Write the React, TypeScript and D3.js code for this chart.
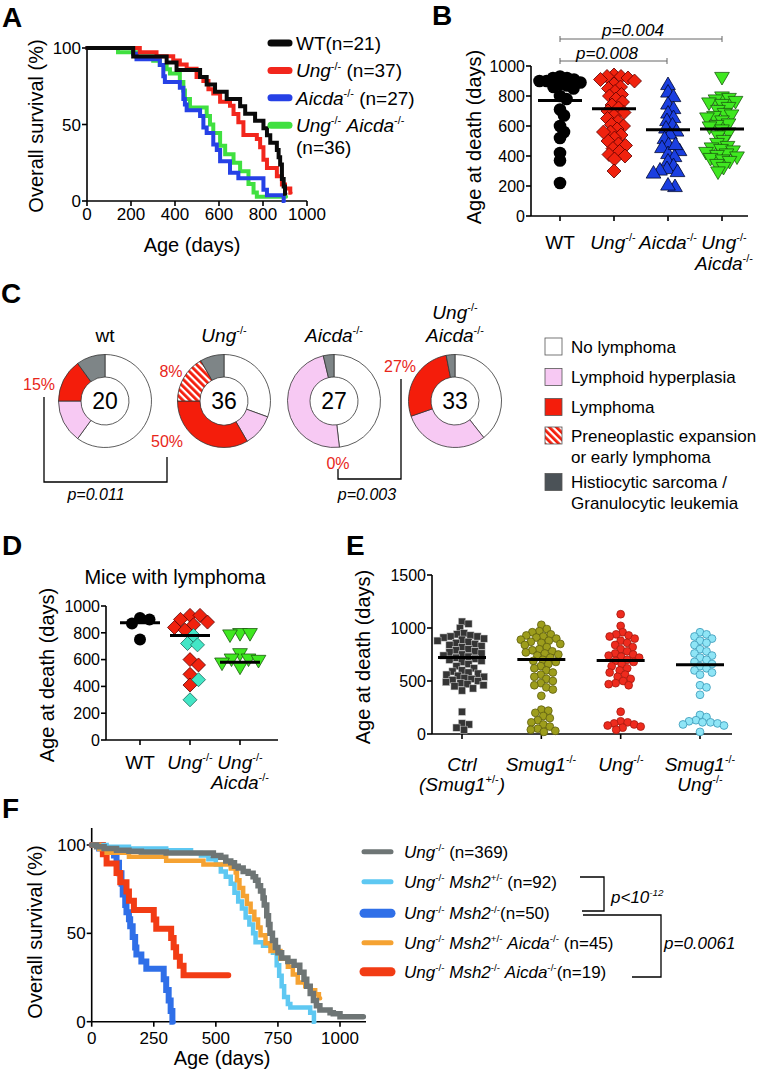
import React from 'react';
import * as d3 from 'd3';

const FONT = 'Arial, "Liberation Sans", Helvetica, sans-serif';

// ---------- Panel A data (Kaplan-Meier steps: [day, % survival]) ----------
const ageTicksA = [0, 200, 400, 600, 800, 1000];
const survTicks = [0, 50, 100];
const kmWT = [[0,100],[210,94.5],[362,90.5],[407,85.7],[514,81],[544,76.2],[582,71.4],[635,66.7],[696,61.9],[719,57.1],[764,52.4],[802,47.6],[818,42.9],[833,38.1],[863,33.3],[871,28.6],[878,23.8],[886,14.3],[894,9.5],[900,4.8],[902,4.8]];
const kmUng = [[0,100],[240,97.3],[316,94.6],[392,91.9],[422,89.2],[453,86.5],[498,81.1],[529,78.4],[552,73],[574,70.3],[605,64.9],[650,62.2],[666,56.8],[688,51.4],[711,43.2],[772,40.5],[787,35.1],[802,27],[818,21.6],[863,16.2],[886,10.8],[900,8.1],[924,5.4],[926,5.4]];
const kmAicda = [[0,100],[210,96.3],[225,92.6],[331,88.9],[347,81.5],[354,77.8],[422,74.1],[438,66.7],[445,63],[453,59.3],[514,55.6],[529,48.1],[544,44.4],[574,37],[590,33.3],[605,25.9],[650,18.5],[688,14.8],[802,7.4],[818,3.7],[894,0],[896,0]];
const kmUngAicda = [[0,100],[141,97.2],[225,94.4],[301,91.7],[331,88.9],[362,86.1],[377,83.3],[422,77.8],[438,72.2],[445,66.7],[468,61.1],[544,55.6],[559,50],[574,44.4],[605,36.1],[628,30.6],[666,25],[696,19.4],[734,11.1],[757,5.6],[772,2.8],[905,2.8]];
const legendA = ['WT(n=21)', '*Ung*^{-/-} (n=37)', '*Aicda*^{-/-} (n=27)', '*Ung*^{-/-} *Aicda*^{-/-}'];
const colorsA = ['#0a0a0a', '#f2261c', '#2641e6', '#40e040'];

// ---------- Panel B data (age at death, days) ----------
const groupsB = ['WT', 'Ung', 'Aicda', 'UngAicda'];
const deathWT = [930, 920, 920, 910, 900, 900, 890, 880, 870, 860, 850, 800, 780, 710, 670, 600, 560, 520, 420, 370, 220];
const deathUng = [940, 930, 930, 920, 910, 900, 880, 860, 850, 830, 810, 800, 780, 760, 740, 720, 700, 690, 670, 650, 630, 610, 600, 580, 560, 540, 520, 500, 480, 470, 450, 430, 410, 400, 380, 560, 300];
const deathAicda = [880, 830, 800, 750, 720, 690, 660, 640, 610, 590, 570, 550, 520, 480, 460, 440, 420, 400, 370, 340, 320, 310, 300, 290, 480, 200, 210];
const deathUngAicda = [920, 790, 780, 770, 760, 750, 740, 720, 700, 680, 670, 660, 650, 630, 610, 600, 590, 570, 550, 530, 500, 480, 460, 450, 440, 430, 420, 410, 400, 390, 380, 370, 360, 340, 320, 290];
const meansB = [770, 715, 575, 580];
const deathTicksB = [0, 200, 400, 600, 800, 1000];

// ---------- Panel C data (counts per outcome) ----------
const outcomes = ['No lymphoma', 'Lymphoid hyperplasia', 'Lymphoma', 'Preneoplastic expansion', 'Histiocytic sarcoma'];
const countsWT = [12, 3, 3, 0, 2];
const countsUng = [11, 4, 12, 6, 3];
const countsAicda = [13, 13, 0, 0, 1];
const countsUngAicda = [13, 10, 9, 0, 1];
const totalsC = ['20', '36', '27', '33'];

// ---------- Panel D data ----------
const lymWT = [910, 900, 870, 750];
const lymUngRed = [930, 930, 900, 880, 860, 840, 820, 600, 560, 490, 410];
const lymUngAqua = [780, 720, 710, 450, 300];
const lymUngAicda = [790, 790, 780, 640, 600, 600, 590, 570, 540];
const meansD = [875, 780, 580];

// ---------- Panel E data ----------
const groupsE = ['Ctrl', 'Smug1', 'Ung', 'SmugUng'];
const deathCtrl = [1060, 1040, 1000, 950, 940, 930, 920, 920, 910, 900, 890, 880, 870, 860, 850, 840, 830, 820, 800, 790, 780, 770, 760, 750, 740, 730, 720, 710, 700, 690, 680, 660, 640, 620, 600, 590, 580, 570, 560, 550, 540, 530, 520, 510, 500, 490, 480, 470, 460, 450, 430, 410, 210, 100, 90, 60, 40];
const deathSmug1 = [1030, 990, 970, 960, 940, 930, 920, 910, 900, 890, 880, 870, 860, 850, 840, 820, 800, 790, 780, 770, 760, 750, 740, 720, 700, 690, 680, 660, 640, 620, 600, 580, 560, 540, 520, 500, 480, 460, 440, 420, 360, 230, 220, 200, 170, 150, 130, 110, 90, 70, 50, 40, 30, 20];
const deathUngE = [1130, 1020, 960, 940, 930, 920, 900, 880, 860, 840, 820, 800, 780, 760, 750, 740, 730, 720, 700, 690, 680, 660, 640, 620, 600, 580, 560, 540, 520, 500, 480, 470, 460, 210, 120, 110, 100, 90, 80, 70, 60, 40];
const deathSmugUng = [960, 940, 920, 900, 880, 860, 840, 800, 780, 760, 740, 720, 700, 680, 660, 640, 620, 600, 580, 560, 460, 440, 370, 180, 160, 130, 120, 110, 110, 100, 90, 80, 20];
const meansE = [722, 703, 694, 653];
const deathTicksE = [0, 500, 1000, 1500];

// ---------- Panel F data ----------
const ageTicksF = [0, 250, 500, 750, 1000];
const kmF_Ung = [[0,100],[20,99],[50,98],[100,97],[150,96.5],[200,96],[300,95.5],[490,94],[520,93],[540,91],[560,90],[575,88],[590,87],[610,85],[630,84],[650,82],[660,80],[670,77],[680,74],[690,70],[695,66],[705,60],[712,55],[718,50],[728,46],[740,42],[750,39],[765,36],[790,34],[815,32],[838,28],[855,24],[866,20],[880,16],[893,12],[905,9],[919,6.6],[960,5],[973,4.5],[1000,2.8],[1094,2.8]];
const kmF_Msh2het = [[0,100],[60,99],[150,98],[300,97],[400,95.5],[440,94],[470,92],[500,89],[520,85],[540,82],[560,78],[575,73],[590,68],[605,64],[620,59],[635,55],[650,50],[660,45],[690,43],[730,39],[745,32],[755,26],[765,20],[775,14],[790,10],[800,8],[880,5],[895,0],[897,0]];
const kmF_Msh2ko = [[0,100],[30,98],[60,96],[90,94],[100,90],[110,84],[120,78],[125,72],[135,66],[140,62],[150,58],[155,54],[165,48],[175,42],[180,38],[200,34],[220,30],[285,30],[290,24],[300,18],[310,12],[318,6],[325,0],[327,0]];
const kmF_Msh2hetAicda = [[0,100],[30,97.8],[60,95.6],[150,93.3],[300,91.1],[450,88.9],[560,86.7],[580,84.4],[585,80],[595,75.6],[610,71.1],[625,66.7],[640,62.2],[655,57.8],[670,53.3],[680,48.9],[700,44.4],[720,40],[760,35.6],[790,31.1],[810,26.7],[830,22.2],[860,20],[880,17.8],[900,15.6],[915,13.3],[920,13.3]];
const kmF_Msh2koAicda = [[0,100],[45,94.7],[60,89.5],[100,84.2],[115,78.9],[140,73.7],[150,68.4],[170,63.2],[250,57.9],[260,52.6],[320,47.4],[330,42.1],[340,36.8],[355,31.6],[370,26.3],[550,26.3]];
const legendF = [
  '*Ung*^{-/-} (n=369)',
  '*Ung*^{-/-} *Msh2*^{+/-} (n=92)',
  '*Ung*^{-/-} *Msh2*^{-/-}(n=50)',
  '*Ung*^{-/-} *Msh2*^{+/-} *Aicda*^{-/-} (n=45)',
  '*Ung*^{-/-} *Msh2*^{-/-} *Aicda*^{-/-}(n=19)',
];
const colorsF = ['#6e7575', '#5ec8f2', '#2f6fe8', '#f5a232', '#f23c14'];

// ---------- helpers ----------
type Seg = { t: string; italic: boolean; sup: boolean };
function parseRich(text: string): Seg[] {
  const segs: Seg[] = [];
  let italic = false;
  let buf = '';
  let i = 0;
  const push = (t: string, sup: boolean) => { if (t) segs.push({ t, italic, sup }); };
  while (i < text.length) {
    const c = text[i];
    if (c === '*') { push(buf, false); buf = ''; italic = !italic; i++; }
    else if (c === '^' && text[i + 1] === '{') {
      push(buf, false); buf = '';
      const j = text.indexOf('}', i);
      push(text.slice(i + 2, j), true);
      i = j + 1;
    } else { buf += c; i++; }
  }
  push(buf, false);
  return segs;
}

function Rich({ x, y, text, size, anchor = 'start', fill = '#000', italic = false, transform }: any) {
  const segs = parseRich(text);
  let cur = 0;
  const shift = size * 0.4;
  return (
    <text x={x} y={y + size * 0.36} fontSize={size} textAnchor={anchor} fill={fill} fontFamily={FONT}
      fontStyle={italic ? 'italic' : 'normal'} transform={transform}>
      {segs.map((s, k) => {
        const target = s.sup ? -shift : 0;
        const dy = target - cur;
        cur = target;
        return (
          <tspan key={k} dy={dy} fontSize={s.sup ? size * 0.58 : size} fontStyle={s.italic || italic ? 'italic' : 'normal'}>
            {s.t}
          </tspan>
        );
      })}
    </text>
  );
}

function swarm(values: number[], y: (v: number) => number, minDist: number) {
  const order = values.map((v, i) => ({ v, i })).sort((a, b) => b.v - a.v);
  const placed: { x: number; y: number }[] = [];
  const out: { v: number; dx: number; y: number }[] = new Array(values.length);
  for (const { v, i } of order) {
    const yy = y(v);
    let off = 0;
    for (let k = 0; k < 400; k++) {
      const cand = k === 0 ? 0 : (k % 2 === 1 ? Math.ceil(k / 2) * 0.5 : -Math.ceil(k / 2) * 0.5);
      if (placed.every(p => (p.x - cand) ** 2 + (p.y - yy) ** 2 >= minDist * minDist)) { off = cand; break; }
    }
    placed.push({ x: off, y: yy });
    out[i] = { v, dx: off, y: yy };
  }
  return out;
}

const diamond = (h: number) => `M0,${-h}L${h},0L0,${h}L${-h},0Z`;
const triUp = (h: number) => `M0,${-h}L${h * 1.05},${h * 0.8}L${-h * 1.05},${h * 0.8}Z`;
const triDown = (h: number) => `M0,${h}L${h * 1.05},${-h * 0.8}L${-h * 1.05},${-h * 0.8}Z`;

function Letter({ x, y, t }: any) {
  return <text x={x} y={y} fontSize={28} fontWeight="bold" fontFamily={FONT}>{t}</text>;
}

function YAxis({ scale, x, ticks, top, size = 16, fmt = (d: number) => String(d) }: any) {
  const r = scale.range();
  return (
    <g>
      <line x1={x} x2={x} y1={r[0]} y2={top ?? r[1]} stroke="#000" strokeWidth={1.6} />
      {ticks.map((t: number) => (
        <g key={t}>
          <line x1={x - 5} x2={x} y1={scale(t)} y2={scale(t)} stroke="#000" strokeWidth={1.6} />
          <text x={x - 6} y={scale(t) + size * 0.36} fontSize={size} textAnchor="end" fontFamily={FONT}>{fmt(t)}</text>
        </g>
      ))}
    </g>
  );
}

function KM({ data, x, y, color, width = 4 }: any) {
  const line = d3.line<number[]>().x(d => x(d[0])).y(d => y(d[1])).curve(d3.curveStepAfter);
  return <path d={line(data) as string} fill="none" stroke={color} strokeWidth={width} strokeLinejoin="miter" strokeLinecap="round" />;
}

export default function App() {
  // ---------------- Panel A ----------------
  const xA = d3.scaleLinear().domain([0, 1000]).range([87, 307]);
  const yA = d3.scaleLinear().domain([0, 100]).range([201, 48]);
  const kmA = [kmWT, kmUng, kmAicda, kmUngAicda];

  // ---------------- Panel B ----------------
  const xB = d3.scalePoint<string>().domain(groupsB).range([560, 722]);
  const yB = d3.scaleLinear().domain([0, 1000]).range([216, 66]);
  const swB = [deathWT, deathUng, deathAicda, deathUngAicda].map(v => swarm(v, yB, 7));

  // ---------------- Panel C ----------------
  const pie = d3.pie<number>().sort(null).value(d => d);
  const arc = d3.arc<d3.PieArcDatum<number>>().innerRadius(24).outerRadius(46.5);
  const fillsC = ['#ffffff', '#f7c9f3', '#f41d0b', 'url(#hatch)', '#7e8587'];
  const donutCenters = [105, 224, 334, 455];
  const countsC = [countsWT, countsUng, countsAicda, countsUngAicda];

  // ---------------- Panel D ----------------
  const xD = d3.scalePoint<string>().domain(['WT', 'Ung', 'UngAicda']).range([140, 240]);
  const yD = d3.scaleLinear().domain([0, 1000]).range([740, 606]);
  const ungAll = [...lymUngRed, ...lymUngAqua];
  const swDWT = swarm(lymWT, yD, 9.5);
  const swDUng = swarm(ungAll, yD, 10);
  const swDUA = swarm(lymUngAicda, yD, 10);

  // ---------------- Panel E ----------------
  const xE = d3.scalePoint<string>().domain(groupsE).range([462, 700]);
  const yE = d3.scaleLinear().domain([0, 1500]).range([734, 575]);
  const swE = [deathCtrl, deathSmug1, deathUngE, deathSmugUng].map(v => swarm(v, yE, 6.6));
  const eFill = ['#353535', '#9d9d1c', '#ee2b1e', '#8fe5f6'];
  const eStroke = ['#cfcfcf', '#5e5e10', '#a51a10', '#3a98b8'];

  // ---------------- Panel F ----------------
  const xF = d3.scaleLinear().domain([0, 1000]).range([91.7, 340]);
  const yF = d3.scaleLinear().domain([0, 100]).range([1021.7, 845]);
  const kmF = [kmF_Ung, kmF_Msh2het, kmF_Msh2ko, kmF_Msh2hetAicda, kmF_Msh2koAicda];
  const widthF = [5.5, 4.5, 6, 4.5, 6];
  const drawOrderF = [2, 4, 1, 3, 0];
  const legendY = [851.7, 881.7, 913.3, 942.7, 971.7];
  const legendW = [5, 5, 9, 5, 9];

  return (
    <div style={{ position: 'absolute', left: 0, top: 0 }}>
      <svg width={759} height={1069} style={{ display: 'block', background: '#fff' }} fontFamily={FONT}>
        <defs>
          <pattern id="hatch" patternUnits="userSpaceOnUse" width={5} height={5} patternTransform="rotate(-45)">
            <rect width={5} height={5} fill="#fff" />
            <rect width={2.8} height={5} fill="#f41d0b" />
          </pattern>
        </defs>

        {/* ================= A ================= */}
        <Letter x={2} y={27} t="A" />
        <YAxis scale={yA} x={87} ticks={survTicks} size={17} />
        <line x1={87} x2={307} y1={201} y2={201} stroke="#000" strokeWidth={1.6} />
        {ageTicksA.map(t => (
          <g key={t}>
            <line x1={xA(t)} x2={xA(t)} y1={201} y2={206} stroke="#000" strokeWidth={1.6} />
            <text x={xA(t)} y={220} fontSize={17} textAnchor="middle" fontFamily={FONT}>{t}</text>
          </g>
        ))}
        {[3, 2, 1, 0].map(i => <KM key={i} data={kmA[i]} x={xA} y={yA} color={colorsA[i]} width={4} />)}
        <text x={192} y={252} fontSize={20} textAnchor="middle">Age (days)</text>
        <text transform="translate(43,126) rotate(-90)" fontSize={20} textAnchor="middle">Overall survival (%)</text>
        {legendA.map((t, i) => (
          <g key={i}>
            <line x1={271} x2={289} y1={43 + i * 27.4} y2={43 + i * 27.4} stroke={colorsA[i]} strokeWidth={7} strokeLinecap="round" />
            <Rich x={296} y={43 + i * 27.4} text={t} size={19} />
          </g>
        ))}
        <Rich x={296} y={147} text="(n=36)" size={19} />

        {/* ================= B ================= */}
        <Letter x={432} y={25} t="B" />
        <YAxis scale={yB} x={531} ticks={deathTicksB} size={16} />
        <line x1={531} x2={748} y1={216} y2={216} stroke="#000" strokeWidth={1.6} />
        {groupsB.map(g => <line key={g} x1={xB(g)} x2={xB(g)} y1={216} y2={221} stroke="#000" strokeWidth={1.6} />)}
        <text transform="translate(481,137) rotate(-90)" fontSize={20} textAnchor="middle">Age at death (days)</text>
        {swB[0].map((p, k) => <circle key={k} cx={(xB('WT') as number) + p.dx} cy={p.y} r={6.3} fill="#000" />)}
        {swB[1].map((p, k) => <path key={k} d={diamond(7)} transform={`translate(${(xB('Ung') as number) + p.dx},${p.y})`} fill="#f0220e" stroke="#5a0000" strokeWidth={0.8} />)}
        {swB[2].map((p, k) => <path key={k} d={triUp(7)} transform={`translate(${(xB('Aicda') as number) + p.dx},${p.y})`} fill="#1b3fe0" stroke="#000830" strokeWidth={0.8} />)}
        {swB[3].map((p, k) => <path key={k} d={triDown(7)} transform={`translate(${(xB('UngAicda') as number) + p.dx},${p.y})`} fill="#3fe820" stroke="#1c5a10" strokeWidth={0.8} />)}
        {groupsB.map((g, i) => (
          <line key={g} x1={(xB(g) as number) - 22} x2={(xB(g) as number) + 22} y1={yB(meansB[i])} y2={yB(meansB[i])} stroke="#000" strokeWidth={3} />
        ))}
        <Rich x={560} y={242} text="WT" size={19} anchor="middle" />
        <Rich x={613} y={242} text="*Ung*^{-/-}" size={19} anchor="middle" />
        <Rich x={668} y={242} text="*Aicda*^{-/-}" size={19} anchor="middle" />
        <Rich x={724} y={242} text="*Ung*^{-/-}" size={19} anchor="middle" />
        <Rich x={724} y={263} text="*Aicda*^{-/-}" size={19} anchor="middle" />
        {/* p-value brackets */}
        <g stroke="#666" strokeWidth={1}>
          <line x1={560} x2={722} y1={39} y2={39} />
          <line x1={560} x2={560} y1={36} y2={42} />
          <line x1={722} x2={722} y1={36} y2={42} />
          <line x1={560} x2={667} y1={61} y2={61} />
          <line x1={560} x2={560} y1={58} y2={64} />
          <line x1={667} x2={667} y1={58} y2={64} />
        </g>
        <Rich x={633} y={30} text="p=0.004" size={17} anchor="middle" italic />
        <Rich x={607} y={53} text="p=0.008" size={17} anchor="middle" italic />

        {/* ================= C ================= */}
        <Letter x={1} y={303} t="C" />
        {countsC.map((counts, i) => (
          <g key={i} transform={`translate(${donutCenters[i]},401)`}>
            {pie(counts).filter(a => a.value > 0).map((a, k) => (
              <path key={k} d={arc(a) as string} fill={fillsC[a.index]} stroke="#333" strokeWidth={0.8} />
            ))}
            <text x={0} y={8} fontSize={23} textAnchor="middle">{totalsC[i]}</text>
          </g>
        ))}
        <Rich x={105} y={335} text="wt" size={19} anchor="middle" />
        <Rich x={224} y={335} text="*Ung*^{-/-}" size={19} anchor="middle" />
        <Rich x={334} y={335} text="*Aicda*^{-/-}" size={19} anchor="middle" />
        <Rich x={455} y={312} text="*Ung*^{-/-}" size={19} anchor="middle" />
        <Rich x={455} y={335} text="*Aicda*^{-/-}" size={19} anchor="middle" />
        {[['15%', 39, 384], ['50%', 167, 441], ['8%', 171, 371], ['0%', 338, 463], ['27%', 400, 366]].map(([t, x, y]) => (
          <Rich key={t as string} x={x} y={y} text={t} size={16} anchor="middle" fill="#e8261a" />
        ))}
        <path d="M44,397V482H167V457" fill="none" stroke="#000" strokeWidth={1.3} />
        <path d="M338,469V479H401V379" fill="none" stroke="#000" strokeWidth={1.3} />
        <Rich x={96} y={494} text="p=0.011" size={16} anchor="middle" italic />
        <Rich x={367} y={494} text="p=0.003" size={16} anchor="middle" italic />
        {/* legend */}
        {[
          { y: 346.5, fill: '#fff', lines: ['No lymphoma'] },
          { y: 377, fill: '#f7c9f3', lines: ['Lymphoid hyperplasia'] },
          { y: 407, fill: '#f41d0b', lines: ['Lymphoma'] },
          { y: 435.5, fill: 'url(#hatch)', lines: ['Preneoplastic expansion', 'or early lymphoma'] },
          { y: 482, fill: '#4b5257', lines: ['Histiocytic sarcoma /', 'Granulocytic leukemia'] },
        ].map((e, i) => (
          <g key={i}>
            <rect x={545} y={e.y - 8.5} width={17} height={17} fill={e.fill} stroke="#555" strokeWidth={0.8} />
            {e.lines.map((l, j) => <Rich key={j} x={571} y={e.y + j * 21} text={l} size={17} />)}
          </g>
        ))}

        {/* ================= D ================= */}
        <Letter x={2} y={555} t="D" />
        <text x={175} y={584} fontSize={20} textAnchor="middle">Mice with lymphoma</text>
        <YAxis scale={yD} x={106} ticks={deathTicksB} size={16} />
        <line x1={106} x2={278} y1={740} y2={740} stroke="#000" strokeWidth={1.6} />
        {['WT', 'Ung', 'UngAicda'].map(g => <line key={g} x1={xD(g)} x2={xD(g)} y1={740} y2={745} stroke="#000" strokeWidth={1.6} />)}
        <text transform="translate(54,675) rotate(-90)" fontSize={20} textAnchor="middle">Age at death (days)</text>
        {swDWT.map((p, k) => <circle key={k} cx={(xD('WT') as number) + p.dx} cy={p.y} r={6} fill="#000" />)}
        {swDUng.map((p, k) => (
          <path key={k} d={diamond(7)} transform={`translate(${(xD('Ung') as number) + p.dx},${p.y})`}
            fill={k < lymUngRed.length ? '#f0220e' : '#43e6c6'} stroke={k < lymUngRed.length ? '#5a0000' : '#1a6a5a'} strokeWidth={0.8} />
        ))}
        {swDUA.map((p, k) => <path key={k} d={triDown(7)} transform={`translate(${(xD('UngAicda') as number) + p.dx},${p.y})`} fill="#3fe820" stroke="#1c5a10" strokeWidth={0.8} />)}
        {['WT', 'Ung', 'UngAicda'].map((g, i) => (
          <line key={g} x1={(xD(g) as number) - 20} x2={(xD(g) as number) + 20} y1={yD(meansD[i])} y2={yD(meansD[i])} stroke="#000" strokeWidth={3} />
        ))}
        <Rich x={140} y={762} text="WT" size={19} anchor="middle" />
        <Rich x={190} y={762} text="*Ung*^{-/-}" size={19} anchor="middle" />
        <Rich x={240} y={762} text="*Ung*^{-/-}" size={19} anchor="middle" />
        <Rich x={240} y={782} text="*Aicda*^{-/-}" size={19} anchor="middle" />

        {/* ================= E ================= */}
        <Letter x={346} y={555} t="E" />
        <YAxis scale={yE} x={432} ticks={deathTicksE} size={16} />
        <line x1={432} x2={732} y1={734} y2={734} stroke="#000" strokeWidth={1.6} />
        {groupsE.map(g => <line key={g} x1={xE(g)} x2={xE(g)} y1={734} y2={739} stroke="#000" strokeWidth={1.6} />)}
        <text transform="translate(370,657) rotate(-90)" fontSize={20} textAnchor="middle">Age at death (days)</text>
        {swE.map((sw, gi) => sw.map((p, k) => {
          const cx = (xE(groupsE[gi]) as number) + p.dx;
          return gi === 0
            ? <rect key={`${gi}-${k}`} x={cx - 3.6} y={p.y - 3.6} width={7.2} height={7.2} fill={eFill[0]} stroke={eStroke[0]} strokeWidth={0.5} />
            : <circle key={`${gi}-${k}`} cx={cx} cy={p.y} r={3.9} fill={eFill[gi]} stroke={eStroke[gi]} strokeWidth={0.8} />;
        }))}
        {groupsE.map((g, i) => (
          <line key={g} x1={(xE(g) as number) - 24} x2={(xE(g) as number) + 24} y1={yE(meansE[i])} y2={yE(meansE[i])} stroke="#000" strokeWidth={3} />
        ))}
        <Rich x={462} y={764} text="*Ctrl*" size={19} anchor="middle" />
        <Rich x={462} y={784} text="*(Smug1*^{+/-}*)*" size={19} anchor="middle" />
        <Rich x={541} y={764} text="*Smug1*^{-/-}" size={19} anchor="middle" />
        <Rich x={621} y={764} text="*Ung*^{-/-}" size={19} anchor="middle" />
        <Rich x={700} y={764} text="*Smug1*^{-/-}" size={19} anchor="middle" />
        <Rich x={700} y={784} text="*Ung*^{-/-}" size={19} anchor="middle" />

        {/* ================= F ================= */}
        <Letter x={2} y={818} t="F" />
        <YAxis scale={yF} x={91.7} ticks={survTicks} size={17} top={828} />
        <line x1={91.7} x2={366} y1={1021.7} y2={1021.7} stroke="#000" strokeWidth={1.6} />
        {ageTicksF.map(t => (
          <g key={t}>
            <line x1={xF(t)} x2={xF(t)} y1={1021.7} y2={1026.7} stroke="#000" strokeWidth={1.6} />
            <text x={xF(t)} y={1044} fontSize={17} textAnchor="middle">{t}</text>
          </g>
        ))}
        {drawOrderF.map(i => <KM key={i} data={kmF[i]} x={xF} y={yF} color={colorsF[i]} width={widthF[i]} />)}
        <text x={222} y={1065} fontSize={20} textAnchor="middle">Age (days)</text>
        <text transform="translate(42,932) rotate(-90)" fontSize={20} textAnchor="middle">Overall survival (%)</text>
        {legendF.map((t, i) => (
          <g key={i}>
            <line x1={364} x2={391} y1={legendY[i]} y2={legendY[i]} stroke={colorsF[i]} strokeWidth={legendW[i]} strokeLinecap="round" />
            <Rich x={404} y={legendY[i]} text={t} size={17} />
          </g>
        ))}
        <path d="M580,877H604V911H582" fill="none" stroke="#000" strokeWidth={1.3} />
        <path d="M583,915H661V977H632" fill="none" stroke="#000" strokeWidth={1.3} />
        <Rich x={611} y={897} text="p<10^{-12}" size={17} italic />
        <Rich x={664} y={943} text="p=0.0061" size={17} italic />
      </svg>
    </div>
  );
}
